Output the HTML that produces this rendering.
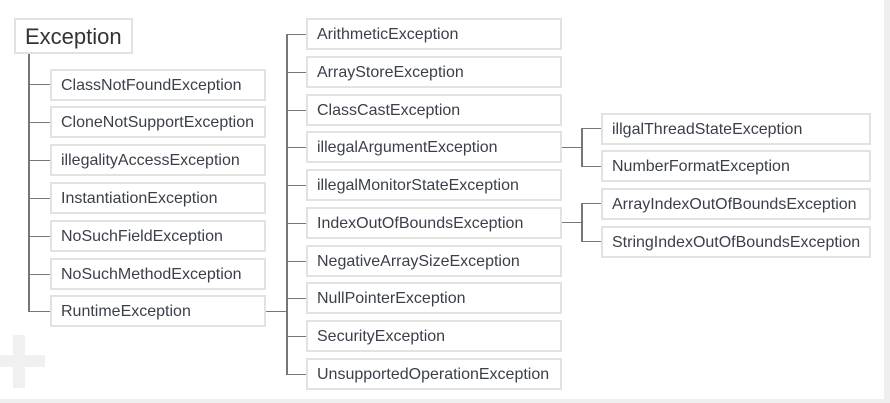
<!DOCTYPE html>
<html><head><style>
body{margin:0;width:890px;height:403px;background:#fff;position:relative;overflow:hidden;font-family:"Liberation Sans",sans-serif}
.b{position:absolute;box-sizing:border-box;border:2px solid #e2e2e2;background:#fff;color:#3a3f4a;font-size:16px;line-height:29px;padding-left:9px;height:32px;white-space:nowrap;letter-spacing:0}
.l{position:absolute;background:#777}
</style></head><body>
<div style="position:absolute;left:884px;top:0;width:6px;height:403px;background:#efefef"></div>
<div style="position:absolute;left:0;top:399px;width:890px;height:4px;background:#efefef"></div>
<div style="position:absolute;left:13px;top:335px;width:12px;height:53px;background:#f0f0f0"></div>
<div style="position:absolute;left:0;top:355px;width:45px;height:12px;background:#f0f0f0"></div>

<div class="b" style="left:14px;top:18px;width:119px;height:36px;font-size:22px;line-height:33px;color:#333">Exception</div>

<div class="l" style="left:28px;top:54px;width:2px;height:258px"></div>
<div class="l" style="left:29px;top:84px;width:21px;height:1px"></div>
<div class="l" style="left:29px;top:122px;width:21px;height:1px"></div>
<div class="l" style="left:29px;top:160px;width:21px;height:1px"></div>
<div class="l" style="left:29px;top:198px;width:21px;height:1px"></div>
<div class="l" style="left:29px;top:236px;width:21px;height:1px"></div>
<div class="l" style="left:29px;top:274px;width:21px;height:1px"></div>
<div class="l" style="left:29px;top:311px;width:21px;height:1px"></div>

<div class="b" style="left:50px;top:69px;width:216px">ClassNotFoundException</div>
<div class="b" style="left:50px;top:106px;width:216px">CloneNotSupportException</div>
<div class="b" style="left:50px;top:144px;width:216px">illegalityAccessException</div>
<div class="b" style="left:50px;top:182px;width:216px">InstantiationException</div>
<div class="b" style="left:50px;top:220px;width:216px">NoSuchFieldException</div>
<div class="b" style="left:50px;top:258px;width:216px">NoSuchMethodException</div>
<div class="b" style="left:50px;top:295px;width:216px">RuntimeException</div>

<div class="l" style="left:266px;top:311px;width:21px;height:1px"></div>
<div class="l" style="left:286px;top:34px;width:2px;height:341px"></div>
<div class="l" style="left:287px;top:34px;width:19px;height:1px"></div>
<div class="l" style="left:287px;top:72px;width:19px;height:1px"></div>
<div class="l" style="left:287px;top:110px;width:19px;height:1px"></div>
<div class="l" style="left:287px;top:147px;width:19px;height:1px"></div>
<div class="l" style="left:287px;top:185px;width:19px;height:1px"></div>
<div class="l" style="left:287px;top:223px;width:19px;height:1px"></div>
<div class="l" style="left:287px;top:261px;width:19px;height:1px"></div>
<div class="l" style="left:287px;top:298px;width:19px;height:1px"></div>
<div class="l" style="left:287px;top:336px;width:19px;height:1px"></div>
<div class="l" style="left:287px;top:374px;width:19px;height:1px"></div>

<div class="b" style="left:306px;top:18px;width:256px">ArithmeticException</div>
<div class="b" style="left:306px;top:56px;width:256px">ArrayStoreException</div>
<div class="b" style="left:306px;top:94px;width:256px">ClassCastException</div>
<div class="b" style="left:306px;top:131px;width:256px">illegalArgumentException</div>
<div class="b" style="left:306px;top:169px;width:256px">illegalMonitorStateException</div>
<div class="b" style="left:306px;top:207px;width:256px">IndexOutOfBoundsException</div>
<div class="b" style="left:306px;top:245px;width:256px">NegativeArraySizeException</div>
<div class="b" style="left:306px;top:282px;width:256px">NullPointerException</div>
<div class="b" style="left:306px;top:320px;width:256px">SecurityException</div>
<div class="b" style="left:306px;top:358px;width:256px">UnsupportedOperationException</div>

<div class="l" style="left:562px;top:147px;width:20px;height:1px"></div>
<div class="l" style="left:581px;top:128px;width:2px;height:39px"></div>
<div class="l" style="left:582px;top:128px;width:19px;height:1px"></div>
<div class="l" style="left:582px;top:166px;width:19px;height:1px"></div>
<div class="l" style="left:562px;top:222px;width:20px;height:1px"></div>
<div class="l" style="left:581px;top:203px;width:2px;height:39px"></div>
<div class="l" style="left:582px;top:203px;width:19px;height:1px"></div>
<div class="l" style="left:582px;top:241px;width:19px;height:1px"></div>

<div class="b" style="left:601px;top:113px;width:270px">illgalThreadStateException</div>
<div class="b" style="left:601px;top:150px;width:270px">NumberFormatException</div>
<div class="b" style="left:601px;top:188px;width:270px">ArrayIndexOutOfBoundsException</div>
<div class="b" style="left:601px;top:226px;width:270px">StringIndexOutOfBoundsException</div>
</body></html>
